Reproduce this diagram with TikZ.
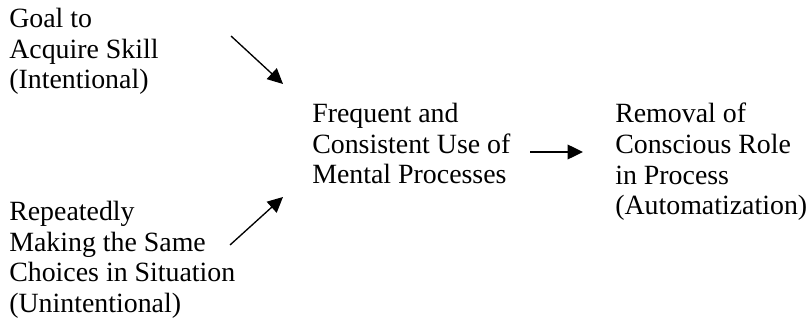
\documentclass[tikz,border=0pt]{standalone}
\usepackage{fontspec}
\setmainfont{Liberation Serif}
\usetikzlibrary{arrows.meta}

\begin{document}
\begin{tikzpicture}[x=0.75pt,y=-0.75pt,
  box/.style={anchor=north west, align=left, inner sep=0pt,
    font=\fontsize{20.9}{23}\selectfont},
  link/.style={-{Triangle[length=11.5pt,width=11pt]}, line width=1pt}]
\useasboundingbox (0,0) rectangle (810,321);

% text blocks
\node[box] (goal) at (9,8) {Goal to\\Acquire Skill\\(Intentional)};
\node[box] (repeat) at (9,201) {Repeatedly\\Making the Same\\Choices in Situation\\(Unintentional)};
\node[box] (use) at (312,103) {Frequent and\\Consistent Use of\\Mental Processes};
\node[box] (removal) at (615,103) {Removal of\\Conscious Role\\in Process\\(Automatization)};

% arrow ends
\coordinate (goalout) at (231,36);
\coordinate (repeatout) at (230,245);
\coordinate (usein1) at (283,84);
\coordinate (usein2) at (283,197);
\coordinate (useout) at (530,152);
\coordinate (removalin) at (583,152);

\draw[link] (goalout) -- (usein1);
\draw[link] (repeatout) -- (usein2);
\draw[link] (useout) -- (removalin);
\end{tikzpicture}
\end{document}
